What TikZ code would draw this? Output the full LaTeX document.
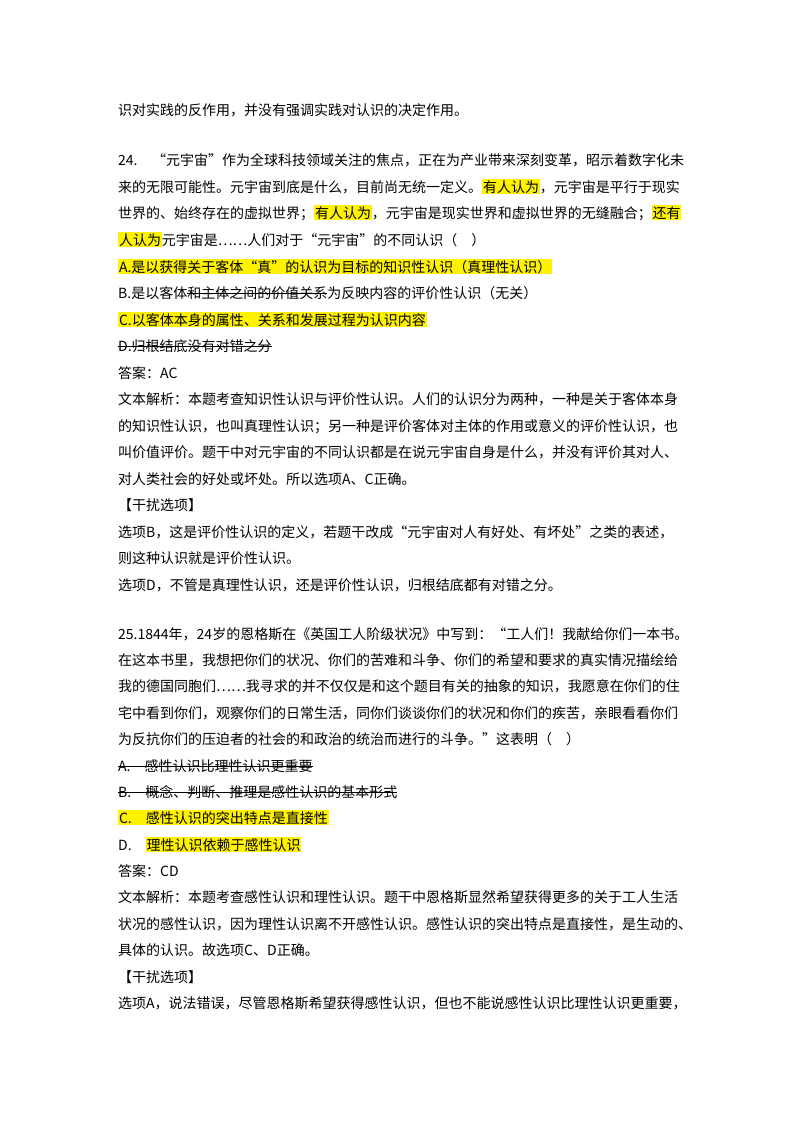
\documentclass[tikz,border=0pt]{standalone}
\usepackage{fontspec}
\setmainfont{Noto Sans CJK SC}
\XeTeXlinebreaklocale "zh"
\XeTeXlinebreakskip=0pt plus 3pt minus 1.2pt
\newcommand\hlt[1]{{\fboxsep=0.8pt\colorbox{yellow}{#1}}}
\newcommand\strk[1]{\setbox0\hbox{#1}\rlap{\raisebox{0.3em}{\rule{\wd0}{0.7pt}}}\box0}
\newcommand\FL[1]{\hbox to 566pt{#1}}
\tikzset{ln/.style={anchor=base west,inner sep=0pt,font=\fontsize{14}{16}\selectfont}}
\begin{document}
\begin{tikzpicture}[x=1pt,y=1pt]
\useasboundingbox[fill=white] (0,0) rectangle (800,-1132);
\node[ln] (l1) at (118,-115) {识对实践的反作用，并没有强调实践对认识的决定作用。};
\node[ln] (l2) at (118,-165) {\FL{24. “元宇宙”作为全球科技领域关注的焦点，正在为产业带来深刻变革，昭示着数字化未}};
\node[ln] (l3) at (118,-192) {\FL{来的无限可能性。元宇宙到底是什么，目前尚无统一定义。\hlt{有人认为}，元宇宙是平行于现实}};
\node[ln] (l4) at (118,-218) {\FL{世界的、始终存在的虚拟世界；\hlt{有人认为}，元宇宙是现实世界和虚拟世界的无缝融合；\hlt{还有}}};
\node[ln] (l5) at (118,-245) {\hlt{人认为}元宇宙是……人们对于“元宇宙”的不同认识（　）};
\node[ln] (l6) at (118,-272) {\hlt{A.是以获得关于客体“真”的认识为目标的知识性认识（真理性认识）}};
\node[ln] (l7) at (118,-298) {B.是以客体\strk{和主体之间的价值关系}为反映内容的评价性认识（无关）};
\node[ln] (l8) at (118,-325) {\hlt{C.以客体本身的属性、关系和发展过程为认识内容}};
\node[ln] (l9) at (118,-351) {\strk{D.归根结底没有对错之分}};
\node[ln] (l10) at (118,-378) {答案：AC};
\node[ln] (l11) at (118,-404) {\FL{文本解析：本题考查知识性认识与评价性认识。人们的认识分为两种，一种是关于客体本身}};
\node[ln] (l12) at (118,-431) {\FL{的知识性认识，也叫真理性认识；另一种是评价客体对主体的作用或意义的评价性认识，也}};
\node[ln] (l13) at (118,-457) {\FL{叫价值评价。题干中对元宇宙的不同认识都是在说元宇宙自身是什么，并没有评价其对人、}};
\node[ln] (l14) at (118,-484) {对人类社会的好处或坏处。所以选项A、C正确。};
\node[ln] (l15) at (118,-510) {【干扰选项】};
\node[ln] (l16) at (118,-537) {\FL{选项B，这是评价性认识的定义，若题干改成“元宇宙对人有好处、有坏处”之类的表述，}};
\node[ln] (l17) at (118,-563) {则这种认识就是评价性认识。};
\node[ln] (l18) at (118,-590) {选项D，不管是真理性认识，还是评价性认识，归根结底都有对错之分。};
\node[ln] (l19) at (118,-639) {\FL{25.1844年，24岁的恩格斯在《英国工人阶级状况》中写到：“工人们！我献给你们一本书。}};
\node[ln] (l20) at (118,-665) {\FL{在这本书里，我想把你们的状况、你们的苦难和斗争、你们的希望和要求的真实情况描绘给}};
\node[ln] (l21) at (118,-691) {\FL{我的德国同胞们……我寻求的并不仅仅是和这个题目有关的抽象的知识，我愿意在你们的住}};
\node[ln] (l22) at (118,-718) {\FL{宅中看到你们，观察你们的日常生活，同你们谈谈你们的状况和你们的疾苦，亲眼看看你们}};
\node[ln] (l23) at (118,-744) {为反抗你们的压迫者的社会的和政治的统治而进行的斗争。”这表明（　）};
\node[ln] (l24) at (118,-771) {\strk{A.　感性认识比理性认识更重要}};
\node[ln] (l25) at (118,-797) {\strk{B.　概念、判断、推理是感性认识的基本形式}};
\node[ln] (l26) at (118,-823) {\hlt{C.　感性认识的突出特点是直接性}};
\node[ln] (l27) at (118,-850) {D.　\hlt{理性认识依赖于感性认识}};
\node[ln] (l28) at (118,-876) {答案：CD};
\node[ln] (l29) at (118,-902) {\FL{文本解析：本题考查感性认识和理性认识。题干中恩格斯显然希望获得更多的关于工人生活}};
\node[ln] (l30) at (118,-929) {\FL{状况的感性认识，因为理性认识离不开感性认识。感性认识的突出特点是直接性，是生动的、}};
\node[ln] (l31) at (118,-955) {具体的认识。故选项C、D正确。};
\node[ln] (l32) at (118,-982) {【干扰选项】};
\node[ln] (l33) at (118,-1008) {\FL{选项A，说法错误，尽管恩格斯希望获得感性认识，但也不能说感性认识比理性认识更重要，}};
\end{tikzpicture}
\end{document}
